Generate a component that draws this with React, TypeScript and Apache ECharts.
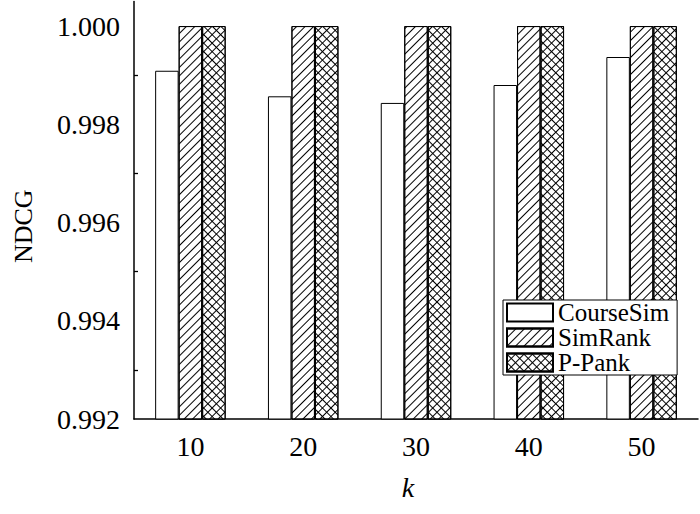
import React, { useEffect, useRef } from "react";
import * as echarts from "echarts";

const categories = ["10", "20", "30", "40", "50"];
const courseSim = [0.99909, 0.99857, 0.998435, 0.9988, 0.99937];
const simRank = [1.0, 1.0, 1.0, 1.0, 1.0];
const pPank = [1.0, 1.0, 1.0, 1.0, 1.0];
const seriesNames = ["CourseSim", "SimRank", "P-Pank"];
const yTicks = { min: 0.992, max: 1.0005, interval: 0.002 };

const FONT = "'Liberation Serif', 'Times New Roman', serif";

export default function App() {
  const ref = useRef<HTMLDivElement>(null);
  useEffect(() => {
    if (!ref.current) return;
    const chart = echarts.init(ref.current, undefined, { renderer: "svg" });
    const baseItem = { borderColor: "#000", borderWidth: 1, color: "#fff" };
    const diag = {
      symbol: "rect",
      symbolSize: 1,
      color: "#000",
      dashArrayX: [1, 0],
      dashArrayY: [1, 5],
      rotation: -Math.PI / 4,
    };
    const cross = {
      symbol: "rect",
      symbolSize: 1,
      color: "#000",
      dashArrayX: [[1, 0], [1, 5]],
      dashArrayY: [1, 0, 5, 0],
      rotation: Math.PI / 4,
    };
    chart.setOption({
      animation: false,
      backgroundColor: "#fff",
      textStyle: { fontFamily: FONT, color: "#000" },
      grid: { left: 134, right: 2, top: 1.5, bottom: 95, containLabel: false },
      legend: {
        orient: "vertical",
        left: 503,
        top: 300,
        padding: [0, 0, 0, 3],
        itemGap: 0,
        itemWidth: 46,
        itemHeight: 18,
        icon: "rect",
        borderColor: "#000",
        borderWidth: 1,
        backgroundColor: "#fff",
        textStyle: { fontFamily: FONT, fontSize: 25, color: "#000", lineHeight: 25, padding: [0, 8, 0, 0] },
        data: seriesNames,
      },
      xAxis: {
        type: "category",
        data: categories,
        boundaryGap: true,
        name: "k",
        nameLocation: "middle",
        nameGap: 54,
        nameTextStyle: { fontFamily: FONT, fontStyle: "italic", fontSize: 28, color: "#000", padding: [0, 16, 0, 0] },
        axisLine: { lineStyle: { color: "#000", width: 1.5 } },
        axisTick: { inside: true, length: 5, lineStyle: { color: "#000", width: 1.3 } },
        axisLabel: { fontFamily: FONT, fontSize: 28, color: "#000", margin: 13 },
        splitLine: { show: false },
      },
      yAxis: {
        type: "value",
        min: yTicks.min,
        max: yTicks.max,
        interval: yTicks.interval,
        name: "NDCG",
        nameLocation: "middle",
        nameGap: 98,
        nameTextStyle: { fontFamily: FONT, fontSize: 26, color: "#000", padding: [0, 32, 0, 0] },
        axisLine: { show: true, lineStyle: { color: "#000", width: 1.5 } },
        axisTick: { inside: true, length: 8, lineStyle: { color: "#000", width: 1.3 } },
        minorTick: { show: true, splitNumber: 2, length: 4, lineStyle: { color: "#000", width: 1.3 } },
        axisLabel: {
          fontFamily: FONT,
          fontSize: 28,
          color: "#000",
          margin: 14,
          showMaxLabel: false,
          formatter: (v: number) => v.toFixed(3),
        },
        splitLine: { show: false },
      },
      series: [
        { name: seriesNames[0], type: "bar", data: courseSim, barWidth: 23.5, barGap: "0%", itemStyle: { ...baseItem } },
        { name: seriesNames[1], type: "bar", data: simRank, barWidth: 23.5, barGap: "0%", itemStyle: { ...baseItem, decal: diag } },
        { name: seriesNames[2], type: "bar", data: pPank, barWidth: 23.5, barGap: "0%", itemStyle: { ...baseItem, decal: cross } },
      ],
    });
    return () => chart.dispose();
  }, []);
  return <div ref={ref} style={{ position: "fixed", left: 0, top: 0, width: 700, height: 514 }} />;
}
